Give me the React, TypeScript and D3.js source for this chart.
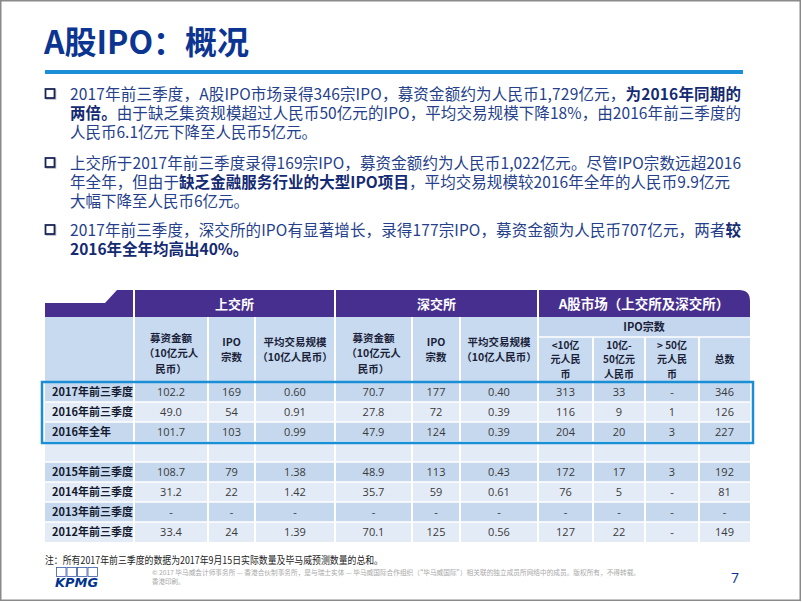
import React from "react";
import * as d3 from "d3";

// ---------- text content ----------
const titleText = "A股IPO：概况";

type Seg = [string, boolean];
const para1: Seg[][] = [
  [["2017年前三季度，A股IPO市场录得346宗IPO，募资金额约为人民币1,729亿元，", false], ["为2016年同期的", true]],
  [["两倍。", true], ["由于缺乏集资规模超过人民币50亿元的IPO，平均交易规模下降18%，由2016年前三季度的", false]],
  [["人民币6.1亿元下降至人民币5亿元。", false]],
];
const para2: Seg[][] = [
  [["上交所于2017年前三季度录得169宗IPO，募资金额约为人民币1,022亿元。尽管IPO宗数远超2016", false]],
  [["年全年，但由于", false], ["缺乏金融服务行业的大型IPO项目", true], ["，平均交易规模较2016年全年的人民币9.9亿元", false]],
  [["大幅下降至人民币6亿元。", false]],
];
const para3: Seg[][] = [
  [["2017年前三季度，深交所的IPO有显著增长，录得177宗IPO，募资金额为人民币707亿元，两者", false], ["较", true]],
  [["2016年全年均高出40%。", true]],
];
const paragraphs = [para1, para2, para3];

// ---------- table data ----------
const rowLabels = ["2017年前三季度", "2016年前三季度", "2016年全年", "", "2015年前三季度", "2014年前三季度", "2013年前三季度", "2012年前三季度"];
const shRaised = ["102.2", "49.0", "101.7", "", "108.7", "31.2", "-", "33.4"];
const shCount = ["169", "54", "103", "", "79", "22", "-", "24"];
const shAvg = ["0.60", "0.91", "0.99", "", "1.38", "1.42", "-", "1.39"];
const szRaised = ["70.7", "27.8", "47.9", "", "48.9", "35.7", "-", "70.1"];
const szCount = ["177", "72", "124", "", "113", "59", "-", "125"];
const szAvg = ["0.40", "0.39", "0.39", "", "0.43", "0.61", "-", "0.56"];
const ipoLt10 = ["313", "116", "204", "", "172", "76", "-", "127"];
const ipo10to50 = ["33", "9", "20", "", "17", "5", "-", "22"];
const ipoGt50 = ["-", "1", "3", "", "3", "-", "-", "-"];
const ipoTotal = ["346", "126", "227", "", "192", "81", "-", "149"];
const valueColumns = [shRaised, shCount, shAvg, szRaised, szCount, szAvg, ipoLt10, ipo10to50, ipoGt50, ipoTotal];

const groupHeaders = [
  { label: "上交所", from: 1, to: 4 },
  { label: "深交所", from: 4, to: 7 },
  { label: "A股市场（上交所及深交所）", from: 7, to: 11 },
];
const colHeaders: string[][] = [
  ["募资金额", "（10亿元人", "民币）"],
  ["IPO", "宗数"],
  ["平均交易规模", "（10亿人民币）"],
  ["募资金额", "（10亿元人", "民币）"],
  ["IPO", "宗数"],
  ["平均交易规模", "（10亿人民币）"],
];
const subHeaderLabel = "IPO宗数";
const subHeaders: string[][] = [
  ["<10亿", "元人民", "币"],
  ["10亿-", "50亿元", "人民币"],
  ["> 50亿", "元人民", "币"],
  ["总数"],
];

const noteText = "注：所有2017年前三季度的数据为2017年9月15日实际数量及毕马威预测数量的总和。";
const copyright1 = "© 2017 毕马威会计师事务所 — 香港合伙制事务所，是与瑞士实体 — 毕马威国际合作组织（“毕马威国际”）相关联的独立成员所网络中的成员。版权所有，不得转载。";
const copyright2 = "香港印刷。";
const pageNumber = "7";

// ---------- layout ----------
const W = 802;
const H = 602;
const colWidths = [89, 74, 47, 80, 77, 48, 78, 55, 52, 54, 51];
const tableLeft = 45;
const CJK = "'Noto Sans CJK SC', 'Noto Sans', sans-serif";
const NUM = "'Open Sans', 'Noto Sans CJK SC', sans-serif";
const PURPLE = "#472f8f";
const HEAD = "#c8daef";
const DARK = "#c6d8ee";
const LIGHT = "#e3ebf6";

export default function App() {
  const edges = [tableLeft, ...Array.from(d3.cumsum(colWidths), (c) => tableLeft + c)];
  const colX = (i: number) => edges[i];
  const tableRight = edges[edges.length - 1];
  const y = d3.scaleBand<number>().domain(d3.range(rowLabels.length)).range([382, 542]).paddingInner(0);
  const bandTop = 290, bandBot = 317, headBot = 382, subTop = 337;
  const bodyBottom = y(rowLabels.length - 1)! + y.bandwidth();

  const lineStep = 19;
  const paraBase = [100, 169, 236];

  return (
    <div style={{ position: "fixed", left: 0, top: 0 }}>
      <svg width={W} height={H} style={{ display: "block", background: "#fff" }}>
        <rect x={0.75} y={0.75} width={799.5} height={599.5} fill="#fff" stroke="#8a8a8a" strokeWidth={1.5} />
        {/* title */}
        <text x={44} y={54} fontFamily={CJK} fontWeight={700} fontSize={32} fill="#0b3590">{titleText}</text>
        <rect x={45} y={70} width={698} height={4} fill="#1b8fd5" />

        {/* bullets */}
        {paragraphs.map((p, pi) => (
          <g key={pi}>
            <rect x={46.5} y={paraBase[pi] - 10} width={9} height={9} fill="none" stroke="#b9bcc6" strokeWidth={1.6} />
            <rect x={45.5} y={paraBase[pi] - 11} width={9} height={9} fill="#fff" stroke="#1b2556" strokeWidth={1.8} />
            {p.map((line, li) => {
              const justify = li < p.length - 1;
              return (
                <text
                  key={li}
                  x={70}
                  y={paraBase[pi] + li * lineStep}
                  fontFamily={CJK}
                  fontSize={15.5}
                  fill="#253f8c"
                  {...(justify ? { textLength: pi === 1 && li === 1 ? 660 : 671, lengthAdjust: "spacing" } : {})}
                >
                  {line.map((s, si) => (
                    <tspan key={si} fontWeight={s[1] ? 700 : 400} fill={s[1] ? "#142a72" : "#253f8c"}>{s[0]}</tspan>
                  ))}
                </text>
              );
            })}
          </g>
        ))}

        {/* purple band */}
        <path
          d={`M${tableLeft},${bandBot} L${tableLeft},303 L105,303 L117,${bandTop} L${tableRight - 11},${bandTop} Q${tableRight},${bandTop} ${tableRight},${bandTop + 11} L${tableRight},${bandBot} Z`}
          fill={PURPLE}
        />
        {/* header cells */}
        <rect x={tableLeft} y={bandBot} width={tableRight - tableLeft} height={headBot - bandBot} fill={HEAD} />
        <rect x={colX(7)} y={bandBot} width={tableRight - colX(7)} height={subTop - bandBot} fill="#c3d6ed" />

        {/* body cells */}
        {rowLabels.map((_, r) => (
          <rect key={r} x={tableLeft} y={y(r)!} width={tableRight - tableLeft} height={y.bandwidth()} fill={r % 2 === 0 ? DARK : LIGHT} />
        ))}
        {/* horizontal white separators */}
        {rowLabels.map((_, r) => (
          <line key={"h" + r} x1={tableLeft} x2={tableRight} y1={y(r)!} y2={y(r)!} stroke="#fff" strokeWidth={1.5} />
        ))}
        <line x1={colX(7)} x2={tableRight} y1={subTop} y2={subTop} stroke="#fff" strokeWidth={1.5} />
        {/* vertical white separators */}
        {edges.slice(1, -1).map((e, i) => {
          const idx = i + 1;
          const isGroup = idx === 1 || idx === 4 || idx === 7;
          const top = isGroup ? bandTop : idx > 7 ? subTop : bandBot;
          return <line key={"v" + i} x1={e} x2={e} y1={top} y2={bodyBottom} stroke="#fff" strokeWidth={2} />;
        })}

        {/* group headers */}
        {groupHeaders.map((g, i) => (
          <text key={i} x={(colX(g.from) + colX(g.to)) / 2} y={308.5} textAnchor="middle" fontFamily={CJK} fontWeight={700} fontSize={i === 2 ? 13.5 : 13} fill="#fff">{g.label}</text>
        ))}
        {/* column headers */}
        {colHeaders.map((lines, i) => {
          const cx = (colX(i + 1) + colX(i + 2)) / 2;
          const cy = lines.length === 3 ? 353.5 : 350;
          const step = 15.2;
          return (
            <text key={i} textAnchor="middle" fontFamily={CJK} fontWeight={700} fontSize={10.5} fill="#1b1f3a">
              {lines.map((l, li) => (
                <tspan key={li} x={cx} y={cy - ((lines.length - 1) * step) / 2 + li * step + 3.8}>{l}</tspan>
              ))}
            </text>
          );
        })}
        <text x={(colX(7) + colX(11)) / 2} y={331} textAnchor="middle" fontFamily={CJK} fontWeight={700} fontSize={11} fill="#1b1f3a">{subHeaderLabel}</text>
        {subHeaders.map((lines, i) => {
          const cx = (colX(i + 7) + colX(i + 8)) / 2;
          const cy = 359.7;
          const step = 14.5;
          return (
            <text key={i} textAnchor="middle" fontFamily={CJK} fontWeight={700} fontSize={10} fill="#1b1f3a">
              {lines.map((l, li) => (
                <tspan key={li} x={cx} y={cy - ((lines.length - 1) * step) / 2 + li * step + 3.6}>{l}</tspan>
              ))}
            </text>
          );
        })}

        {/* row labels */}
        {rowLabels.map((l, r) => (
          <text key={"l" + r} x={52} y={y(r)! + y.bandwidth() / 2 + 4} fontFamily={CJK} fontWeight={700} fontSize={11} fill="#141a2e">{l}</text>
        ))}
        {/* values */}
        {valueColumns.map((col, c) =>
          col.map((v, r) => (
            <text key={c + "-" + r} x={(colX(c + 1) + colX(c + 2)) / 2} y={y(r)! + y.bandwidth() / 2 + 4} textAnchor="middle" fontFamily={NUM} fontSize={11} fill="#3a3a3a">{v}</text>
          ))
        )}

        {/* highlight box */}
        <rect x={42} y={y(0)!} width={711} height={y.bandwidth() * 3 + 1} fill="none" stroke="#1b8fd5" strokeWidth={2.5} />

        {/* footer */}
        <text x={45} y={564} fontFamily={CJK} fontSize={10} fill="#222" textLength={338} lengthAdjust="spacingAndGlyphs">{noteText}</text>
        <g>
          {[0, 1, 2, 3].map((i) => (
            <rect key={i} x={56.5 + i * 10.5} y={567.5} width={9.5} height={9} fill="none" stroke="#3a5aa8" strokeWidth={0.8} />
          ))}
          <text x={55} y={587} fontFamily="'DejaVu Sans', sans-serif" fontWeight={700} fontStyle="italic" fontSize={12.5} fill="#00338d" textLength={43} lengthAdjust="spacingAndGlyphs">KPMG</text>
        </g>
        <text x={152} y={574.5} fontFamily={CJK} fontSize={6.5} fill="#a8a8a8" textLength={488} lengthAdjust="spacingAndGlyphs">{copyright1}</text>
        <text x={152} y={584} fontFamily={CJK} fontSize={6.5} fill="#a8a8a8">{copyright2}</text>
        <text x={731} y={583} fontFamily={NUM} fontSize={14} fill="#0b3590">{pageNumber}</text>
      </svg>
    </div>
  );
}
